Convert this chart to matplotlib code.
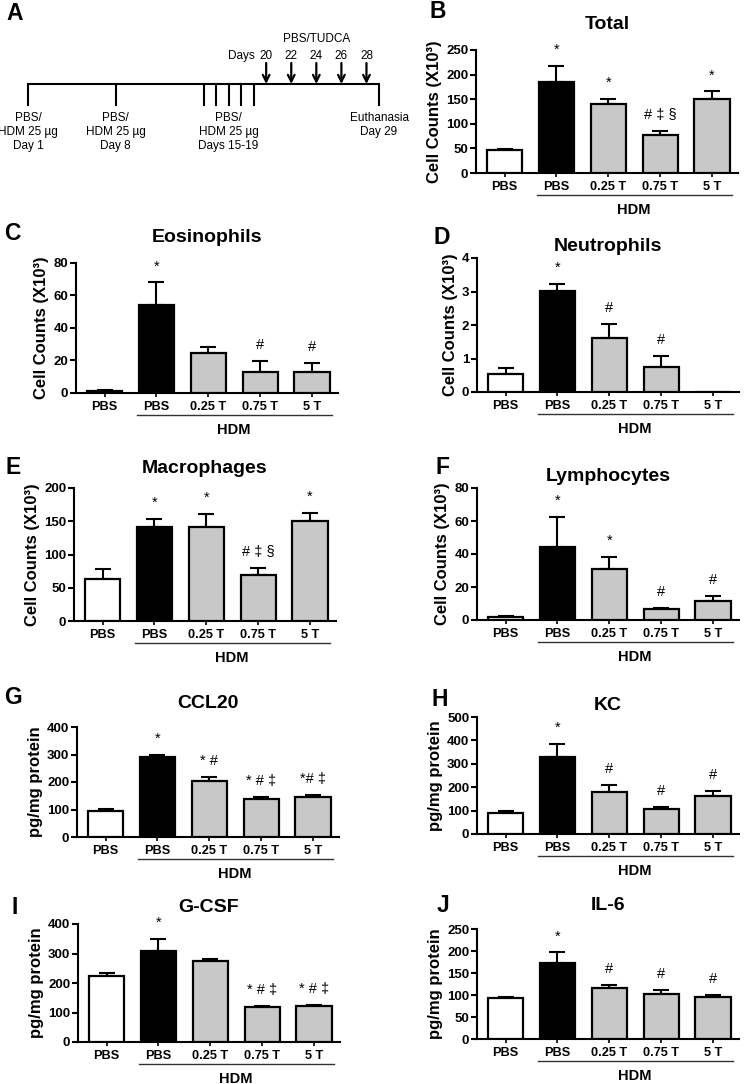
import numpy as np
import matplotlib
matplotlib.use("Agg")
import matplotlib.pyplot as plt
from matplotlib.transforms import blended_transform_factory, offset_copy

plt.rcParams["font.family"] = ["Liberation Sans", "DejaVu Sans"]

W, H = 750, 1084

GROUPS = ["PBS", "PBS", "0.25 T", "0.75 T", "5 T"]
COLORS = ["white", "black", "#c8c8c8", "#c8c8c8", "#c8c8c8"]

# mean and mean+SEM per group
TOTAL_MEAN = [46, 185, 140, 77, 150]
TOTAL_TOP = [48, 217, 151, 86, 166]
EOS_MEAN = [1.5, 54, 24.5, 13, 12.8]
EOS_TOP = [1.8, 68, 28.5, 19.8, 18.5]
NEU_MEAN = [0.55, 3.02, 1.6, 0.75, 0.0]
NEU_TOP = [0.72, 3.23, 2.02, 1.06, 0.0]
MAC_MEAN = [63, 142, 141, 69, 151]
MAC_TOP = [78, 153, 161, 79, 162]
LYM_MEAN = [2.0, 44, 31, 6.5, 11.5]
LYM_TOP = [2.3, 62.5, 38, 7.2, 14.5]
CCL20_MEAN = [95, 290, 202, 140, 147]
CCL20_TOP = [102, 300, 218, 147, 154]
KC_MEAN = [90, 330, 180, 108, 162]
KC_TOP = [100, 385, 208, 116, 182]
GCSF_MEAN = [225, 310, 275, 118, 123]
GCSF_TOP = [233, 350, 283, 121, 127]
IL6_MEAN = [93, 172, 116, 102, 96]
IL6_TOP = [96, 197, 123, 111, 101]

TOTAL_SIG = ["", "*", "*", "# \u2021 \u00a7", "*"]
EOS_SIG = ["", "*", "", "#", "#"]
NEU_SIG = ["", "*", "#", "#", ""]
MAC_SIG = ["", "*", "*", "# \u2021 \u00a7", "*"]
LYM_SIG = ["", "*", "*", "#", "#"]
CCL20_SIG = ["", "*", "* #", "* # \u2021", "*# \u2021"]
KC_SIG = ["", "*", "#", "#", "#"]
GCSF_SIG = ["", "*", "", "* # \u2021", "* # \u2021"]
IL6_SIG = ["", "*", "#", "#", "#"]

CELL_LABEL = "Cell Counts (X10\u00b3)"
PROT_LABEL = "pg/mg protein"

# timeline (panel A)
INJ_DAYS = [1, 8, 15, 16, 17, 18, 19]
TUDCA_DAYS = [20, 22, 24, 26, 28]
END_DAY = 29

# (letter, title, mean, top, sig, ylabel, ymax, ystep, left px, top px, bottom px, letter x, letter y)
PANELS = [
    ("B", "Total", TOTAL_MEAN, TOTAL_TOP, TOTAL_SIG, CELL_LABEL, 250, 50, 476, 50, 173, 438, 12),
    ("C", "Eosinophils", EOS_MEAN, EOS_TOP, EOS_SIG, CELL_LABEL, 80, 20, 76, 263, 393, 12, 234),
    ("D", "Neutrophils", NEU_MEAN, NEU_TOP, NEU_SIG, CELL_LABEL, 4, 1, 477, 258, 392, 442, 237),
    ("E", "Macrophages", MAC_MEAN, MAC_TOP, MAC_SIG, CELL_LABEL, 200, 50, 74, 488, 621, 13, 467),
    ("F", "Lymphocytes", LYM_MEAN, LYM_TOP, LYM_SIG, CELL_LABEL, 80, 20, 477, 488, 620, 442, 467),
    ("G", "CCL20", CCL20_MEAN, CCL20_TOP, CCL20_SIG, PROT_LABEL, 400, 100, 77, 727, 837, 13, 697),
    ("H", "KC", KC_MEAN, KC_TOP, KC_SIG, PROT_LABEL, 500, 100, 477, 717, 834, 440, 700),
    ("I", "G-CSF", GCSF_MEAN, GCSF_TOP, GCSF_SIG, PROT_LABEL, 400, 100, 78, 924, 1042, 15, 907),
    ("J", "IL-6", IL6_MEAN, IL6_TOP, IL6_SIG, PROT_LABEL, 250, 50, 477, 929, 1039, 443, 905),
]
TITLE_GAP = [25, 25, 15, 21, 15, 24, 15, 19, 24]

fig = plt.figure(figsize=(W / 100, H / 100), dpi=100)


def bar_panel(p, title_gap):
    (letter, title, mean, top, sig, ylabel, ymax, ystep,
     left, ytop, ybot, lx, ly) = p
    width = 262
    ax = fig.add_axes([left / W, 1 - ybot / H, width / W, (ybot - ytop) / H])
    x = np.arange(len(GROUPS))
    mean = np.array(mean, float)
    top = np.array(top, float)
    ax.bar(x, mean, width=0.68, color=COLORS, edgecolor="black", linewidth=1.6, zorder=3)
    up = top - mean
    for xi, m, u in zip(x, mean, up):
        if u > 0:
            ax.errorbar(xi, m, yerr=[[0], [u]], fmt="none", ecolor="black",
                        elinewidth=1.5, capsize=5.5, capthick=1.5, zorder=2)
    for xi, t, s in zip(x, top, sig):
        if s:
            ax.annotate(s, (xi, t), xytext=(0, 6.5), textcoords="offset points",
                        ha="center", va="bottom", fontsize=10.5)
    ax.set_xlim(-0.55, 4.5)
    ax.set_ylim(0, ymax)
    ax.set_yticks(np.arange(0, ymax + ystep / 2, ystep))
    ax.set_xticks(x)
    ax.set_xticklabels(GROUPS, fontsize=9.2, fontweight="bold")
    for lab in ax.get_yticklabels():
        lab.set_fontweight("bold")
        lab.set_fontsize(9.5)
    ax.tick_params(axis="y", length=4, width=1.5, pad=1.5)
    ax.tick_params(axis="x", length=3, width=1.2, pad=3)
    for side in ("top", "right"):
        ax.spines[side].set_visible(False)
    for side in ("left", "bottom"):
        ax.spines[side].set_linewidth(1.5)
    ax.set_ylabel(ylabel, fontsize=12, fontweight="bold", labelpad=3)
    ax.set_title(title, fontsize=14, fontweight="bold", pad=title_gap - 10)
    # HDM bracket
    tr = blended_transform_factory(ax.transData, ax.transAxes)
    tr_line = offset_copy(tr, fig=fig, y=-22 * 0.72, units="points")
    ax.plot([0.62, 4.38], [0, 0], color="#333333", lw=1.0, transform=tr_line, clip_on=False)
    tr_text = offset_copy(tr, fig=fig, y=-37 * 0.72, units="points")
    ax.text(2.5, 0, "HDM", transform=tr_text, ha="center", va="center",
            fontsize=10.5, fontweight="bold")
    fig.text(lx / W, 1 - ly / H, letter, ha="center", va="center",
             fontsize=16.5, fontweight="bold")
    return ax


for p, g in zip(PANELS, TITLE_GAP):
    bar_panel(p, g)

# panel A: timeline schematic, y axis in pixel rows of the panel area
px_per_day = (379 - 28) / (END_DAY - 1)
axa = fig.add_axes([0, 1 - 180 / H, 390 / W, 180 / H])
axa.set_xlim(1 - 28 / px_per_day, 1 + (390 - 28) / px_per_day)
axa.set_ylim(180, 0)
axa.axis("off")
axa.plot([INJ_DAYS[0], END_DAY], [84, 84], color="black", lw=1.5, solid_capstyle="butt")
for d in INJ_DAYS + [END_DAY]:
    axa.plot([d, d], [84, 105], color="black", lw=1.5)
for d in TUDCA_DAYS:
    axa.annotate("", xy=(d, 84), xytext=(d, 63),
                 arrowprops=dict(arrowstyle="->", lw=1.6, color="black", mutation_scale=12,
                                 shrinkA=0, shrinkB=0))
    axa.text(d, 56, str(d), ha="center", va="center", fontsize=8.5)
axa.text(TUDCA_DAYS[0] - 0.9, 56, "Days", ha="right", va="center", fontsize=8.5)
axa.text(np.mean(TUDCA_DAYS), 39, "PBS/TUDCA", ha="center", va="center", fontsize=8.5)
inj_text = "PBS/\nHDM 25 \u00b5g\n"
axa.text(INJ_DAYS[0], 112, inj_text + "Day 1", ha="center", va="top", fontsize=8.5,
         linespacing=1.25)
axa.text(INJ_DAYS[1], 112, inj_text + "Day 8", ha="center", va="top", fontsize=8.5,
         linespacing=1.25)
axa.text(np.mean(INJ_DAYS[2:]), 112, inj_text + "Days 15-19", ha="center", va="top",
         fontsize=8.5, linespacing=1.25)
axa.text(END_DAY, 112, "Euthanasia\nDay 29", ha="center", va="top", fontsize=8.5,
         linespacing=1.25)
fig.text(15 / W, 1 - 14 / H, "A", ha="center", va="center", fontsize=16.5, fontweight="bold")

fig.savefig("out.png", dpi=100)
